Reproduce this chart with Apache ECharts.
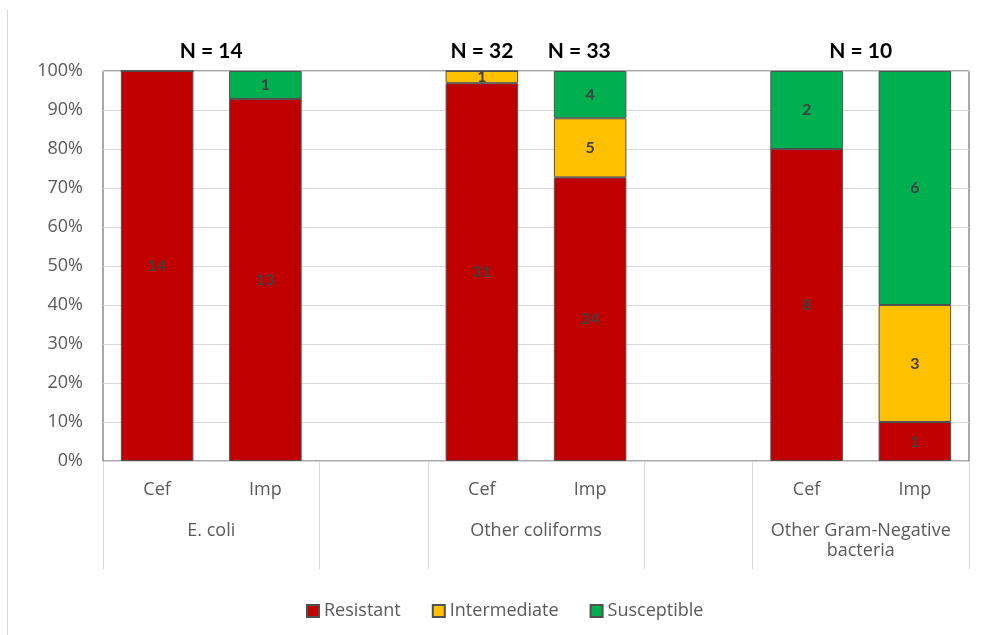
<!DOCTYPE html>
<html>
<head>
<meta charset="utf-8">
<script src="https://cdn.jsdelivr.net/npm/echarts@6/dist/echarts.min.js"></script>
<style>
  html, body { margin: 0; padding: 0; background: #fff; }
  #frame { position: absolute; left: 7px; top: 10px; width: 0; height: 625px; border-left: 1px solid #d9d9d9; }
  #chart { position: absolute; left: 0; top: 0; width: 985px; height: 635px; }
</style>
</head>
<body>
<div id="frame"></div>
<div id="chart"></div>
<script>
// Antibiotic categories on the lower axis; empty strings are spacer slots between groups
const categories = ['Cef', 'Imp', '', 'Cef', 'Imp', '', 'Cef', 'Imp'];

// Isolate counts per category
const resistant    = [14, 13, null, 31, 24, null, 8, 1];
const intermediate = [0, 0, null, 1, 5, null, 0, 3];
const susceptible  = [0, 1, null, 0, 4, null, 2, 6];

// Organism groups: name, first slot, number of slots
const groupNames  = ['E. coli', 'Other coliforms', 'Other Gram-Negative\nbacteria'];
const groupStart  = [0, 3, 6];
const groupSize   = [2, 2, 2];

// Sample-size captions and where they sit along the category axis (slot units)
const nLabels    = ['N = 14', 'N = 32', 'N = 33', 'N = 10'];
const nPositions = [1, 3.5, 4.4, 7];

// Y axis ticks
const yTicks = [0, 0.1, 0.2, 0.3, 0.4, 0.5, 0.6, 0.7, 0.8, 0.9, 1];

const totals = categories.map((c, i) =>
  resistant[i] == null ? null : resistant[i] + intermediate[i] + susceptible[i]);
const share = arr => arr.map((v, i) => (v == null || !totals[i]) ? null : v / totals[i]);

const FONT = '"Open Sans"';
const labelColor = '#404040';

const groupLabelAt = {};
groupNames.forEach((g, k) => { groupLabelAt[Math.round((groupStart[k] + groupSize[k] / 2) * 10)] = g; });
const nLabelAt = {};
nLabels.forEach((t, k) => { nLabelAt[Math.round(nPositions[k] * 10)] = t; });
const dividerIdx = new Set();
groupStart.forEach((s, k) => { dividerIdx.add(s); dividerIdx.add(s + groupSize[k]); });

function makeSeries(name, counts, color) {
  return {
    name: name,
    type: 'bar',
    stack: 'all',
    xAxisIndex: 0,
    barWidth: '67%',
    data: share(counts),
    itemStyle: { color: color, borderColor: '#505050', borderWidth: 1 },
    label: {
      show: true,
      position: 'inside',
      fontFamily: 'Lato',
      fontSize: 16,
      fontWeight: 'bold',
      color: labelColor,
      formatter: p => (counts[p.dataIndex] ? String(counts[p.dataIndex]) : '')
    }
  };
}

const chart = echarts.init(document.getElementById('chart'), null, { renderer: 'canvas' });
chart.setOption({
  animation: false,
  backgroundColor: 'transparent',
  grid: {
    left: 103, right: 16, top: 71, bottom: 174,
    show: true, borderColor: '#505050', borderWidth: 1, backgroundColor: 'transparent'
  },
  legend: {
    data: ['Resistant', 'Intermediate', 'Susceptible'],
    left: 301, top: 597,
    icon: 'rect', itemWidth: 12, itemHeight: 12, itemGap: 31,
    textStyle: { fontFamily: FONT, fontSize: 18, color: '#595959' }
  },
  xAxis: [
    {
      type: 'category',
      data: categories,
      position: 'bottom',
      axisLine: { show: true, lineStyle: { color: '#d9d9d9', width: 1 } },
      axisTick: { show: false },
      axisLabel: { fontFamily: FONT, fontSize: 18, color: '#595959', margin: 20 },
      splitLine: { show: false }
    },
    {
      type: 'category',
      data: categories,
      position: 'bottom',
      axisLine: { show: false },
      axisTick: {
        show: true, length: 108,
        interval: idx => dividerIdx.has(idx),
        lineStyle: { color: '#d9d9d9', width: 1 }
      },
      axisLabel: { show: false },
      splitLine: { show: false }
    },
    {
      type: 'value',
      min: 0, max: categories.length, interval: 0.5,
      position: 'bottom',
      axisLine: { show: false },
      axisTick: { show: false },
      splitLine: { show: false },
      axisLabel: {
        fontFamily: FONT, fontSize: 18, color: '#595959', margin: 60, lineHeight: 20,
        formatter: v => groupLabelAt[Math.round(v * 10)] || ''
      }
    },
    {
      type: 'value',
      min: 0, max: categories.length, interval: 0.1,
      position: 'top',
      axisLine: { show: false },
      axisTick: { show: false },
      splitLine: { show: false },
      axisLabel: {
        fontFamily: 'Lato', fontSize: 21, fontWeight: 'bold', color: '#000', margin: 9,
        formatter: v => nLabelAt[Math.round(v * 10)] || ''
      }
    }
  ],
  yAxis: {
    type: 'value',
    min: yTicks[0], max: yTicks[yTicks.length - 1], interval: yTicks[1] - yTicks[0],
    axisLine: { show: false },
    axisTick: { show: false },
    splitLine: { show: true, lineStyle: { color: '#d9d9d9', width: 1 } },
    axisLabel: {
      fontFamily: FONT, fontSize: 18, color: '#595959', margin: 20,
      formatter: v => Math.round(v * 100) + '%'
    }
  },
  series: [
    makeSeries('Resistant', resistant, '#C00000'),
    makeSeries('Intermediate', intermediate, '#FFC000'),
    makeSeries('Susceptible', susceptible, '#00B050')
  ]
});
</script>
</body>
</html>
